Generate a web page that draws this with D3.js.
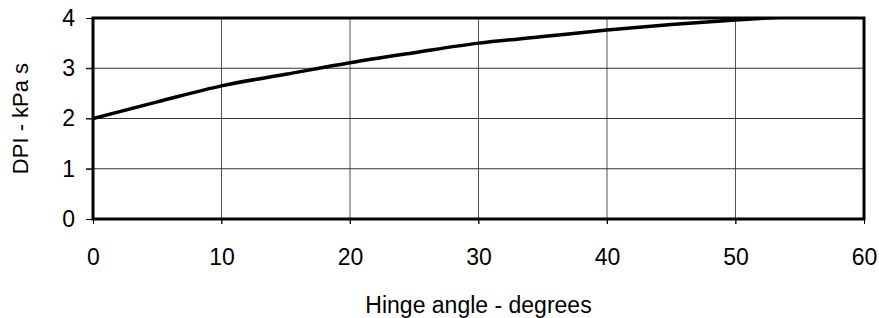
<!DOCTYPE html>
<html>
<head>
<meta charset="utf-8">
<script src="https://cdn.jsdelivr.net/npm/d3@7"></script>
<style>
  body { margin: 0; background: #fff; }
  text { font-family: "Liberation Sans", Arial, sans-serif; fill: #000; }
</style>
</head>
<body>
<svg id="chart" width="879" height="318"></svg>
<script>
// hinge angle (degrees) vs DPI (kPa s)
const angles = [0, 5, 10, 15, 20, 25, 30, 35, 40, 45, 50, 55];
const dpi = [2.0, 2.33, 2.65, 2.88, 3.11, 3.31, 3.50, 3.63, 3.76, 3.87, 3.96, 4.04];
const xTicks = [0, 10, 20, 30, 40, 50, 60];
const yTicks = [0, 1, 2, 3, 4];

const margin = {top: 18, right: 15, bottom: 99, left: 93},
      width = 879 - margin.left - margin.right,
      height = 318 - margin.top - margin.bottom;

const fs = '23px';

const svg = d3.select('#chart');
const g = svg.append('g')
    .attr('transform', 'translate(' + margin.left + ',' + margin.top + ')');

const x = d3.scaleLinear().domain([0, 60]).range([0, width]);
const y = d3.scaleLinear().domain([0, 4]).range([height, 0]);

// grid
g.append('g')
    .selectAll('line')
    .data(xTicks.slice(1, -1))
    .join('line')
    .attr('x1', d => x(d)).attr('x2', d => x(d))
    .attr('y1', 0).attr('y2', height + 5)
    .attr('stroke', '#555').attr('stroke-width', 1);

g.append('g')
    .selectAll('line')
    .data(yTicks.slice(1, -1))
    .join('line')
    .attr('x1', -7).attr('x2', width)
    .attr('y1', d => y(d)).attr('y2', d => y(d))
    .attr('stroke', '#333').attr('stroke-width', 1);

// axes (ticks outside the frame)
g.append('g')
    .attr('transform', 'translate(0,' + height + ')')
    .call(d3.axisBottom(x).tickValues(xTicks).tickFormat(d3.format('d')).tickSize(5).tickPadding(25))
    .call(a => a.select('.domain').remove())
    .call(a => a.attr('font-size', null).attr('font-family', null))
    .selectAll('text').style('font-size', fs);

g.append('g')
    .call(d3.axisLeft(y).tickValues(yTicks).tickFormat(d3.format('d')).tickSize(7).tickPadding(11))
    .call(a => a.select('.domain').remove())
    .call(a => a.attr('font-size', null).attr('font-family', null))
    .selectAll('text').style('font-size', fs);

g.selectAll('.tick line').attr('stroke', '#000');

// curve, clipped to the frame
g.append('clipPath').attr('id', 'clip')
  .append('rect').attr('width', width).attr('height', height);

const line = d3.line()
    .x((d, i) => x(angles[i]))
    .y(d => y(d))
    .curve(d3.curveMonotoneX);

g.append('path')
    .datum(dpi)
    .attr('clip-path', 'url(#clip)')
    .attr('fill', 'none')
    .attr('stroke', '#000')
    .attr('stroke-width', 3.5)
    .attr('d', line);

// frame
g.append('rect')
    .attr('width', width).attr('height', height)
    .attr('fill', 'none')
    .attr('stroke', '#000')
    .attr('stroke-width', 3);

// titles
svg.append('text')
    .attr('x', margin.left + width / 2)
    .attr('y', 313)
    .attr('text-anchor', 'middle')
    .style('font-size', fs)
    .text('Hinge angle - degrees');

svg.append('text')
    .attr('transform', 'translate(28,' + (margin.top + height / 2) + ') rotate(-90)')
    .attr('text-anchor', 'middle')
    .style('font-size', '22px')
    .text('DPI - kPa s');
</script>
</body>
</html>
